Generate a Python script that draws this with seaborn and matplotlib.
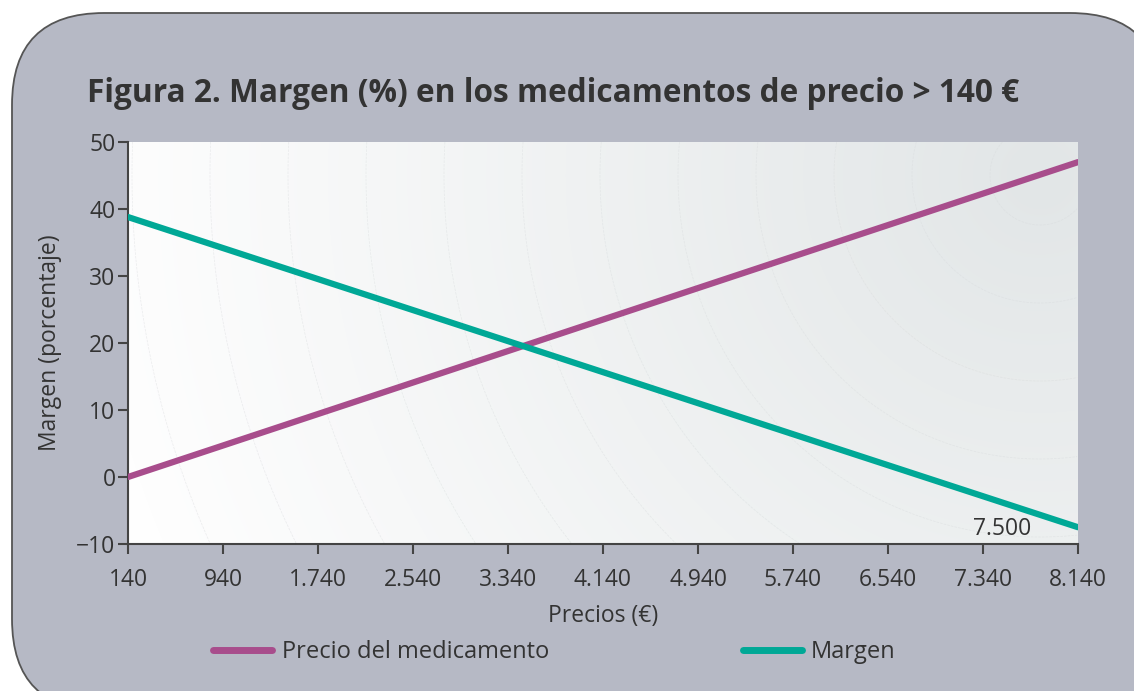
import numpy as np
import pandas as pd
import seaborn as sns
import matplotlib
matplotlib.use("Agg")
import matplotlib.pyplot as plt
from matplotlib.patches import FancyBboxPatch
from matplotlib.transforms import IdentityTransform

# ---- data ----
precios = [140, 8140]
precio_medicamento = [0.0, 47.0]
margen = [38.8, -7.5]
series_names = ["Precio del medicamento", "Margen"]
x_ticks = [140, 940, 1740, 2540, 3340, 4140, 4940, 5740, 6540, 7340, 8140]
x_tick_labels = ["140", "940", "1.740", "2.540", "3.340", "4.140", "4.940",
                 "5.740", "6.540", "7.340", "8.140"]
y_ticks = [-10, 0, 10, 20, 30, 40, 50]
y_tick_labels = ["\u221210", "0", "10", "20", "30", "40", "50"]
annotation_x, annotation_y, annotation_text = 7500, -7.8, "7.500"

df = pd.DataFrame({
    "Precios": precios * 2,
    "Valor": precio_medicamento + margen,
    "Serie": [series_names[0]] * len(precios) + [series_names[1]] * len(precios),
})

sns.set_theme(style="white")
plt.rcParams["font.family"] = ["Open Sans", "DejaVu Sans"]

W, H, DPI = 1134, 691, 100
fig = plt.figure(figsize=(W / DPI, H / DPI), dpi=DPI)
fig.patch.set_facecolor("white")

panel_col = "#b6b9c5"
text_col = "#333333"
panel = FancyBboxPatch((12, -20), 1150, 691 - 13 + 20,
                       boxstyle="round,pad=0,rounding_size=92",
                       transform=IdentityTransform(), facecolor=panel_col,
                       edgecolor="#555555", linewidth=1.3, zorder=-5)
fig.patches.append(panel)

ax_l, ax_r, ax_t, ax_b = 128, 1078, 142, 544
ax = fig.add_axes([ax_l / W, 1 - ax_b / H, (ax_r - ax_l) / W, (ax_b - ax_t) / H])
ax.set_zorder(2)
ax.set_facecolor("white")

# radial background gradient
aw, ah = ax_r - ax_l, ax_b - ax_t
xx, yy = np.meshgrid(np.arange(aw), np.arange(ah))
cx, cy = 1040 - ax_l, 175 - ax_t
d = np.sqrt((xx - cx) ** 2 + (yy - cy) ** 2)
t = np.clip(d / 950.0, 0, 1)
c0 = np.array([226, 230, 231]) / 255.0
c1 = np.array([254, 254, 254]) / 255.0
img = c0[None, None, :] + (c1 - c0)[None, None, :] * t[..., None]
ax.imshow(img, extent=[140, 8140, -10, 50], origin="upper", aspect="auto",
          zorder=0, interpolation="bilinear")
# faint concentric rings
gx = 140 + xx / aw * 8000
gy = 50 - yy / ah * 60
ax.contour(gx, gy, d, levels=np.arange(50, 1000, 78), colors="#d6d9db",
           linewidths=0.5, zorder=1, alpha=0.45, linestyles="--")

palette = {series_names[0]: "#a84d8c", series_names[1]: "#00a896"}
sns.lineplot(data=df, x="Precios", y="Valor", hue="Serie", palette=palette,
             linewidth=4.5, ax=ax, legend=True, zorder=3)

ax.set_xlim(140, 8140)
ax.set_ylim(-10, 50)
ax.set_xticks(x_ticks)
ax.set_xticklabels(x_tick_labels)
ax.set_yticks(y_ticks)
ax.set_yticklabels(y_tick_labels)
for s in ["top", "right"]:
    ax.spines[s].set_visible(False)
for s in ["left", "bottom"]:
    ax.spines[s].set_color("#444444")
    ax.spines[s].set_linewidth(1.5)
ax.tick_params(axis="both", direction="out", length=7, width=1.5,
               color="#444444", labelsize=16.5, labelcolor=text_col,
               bottom=True, left=True)
ax.tick_params(axis="x", pad=10)
ax.tick_params(axis="y", pad=2)
ax.set_xlabel("Precios (\u20ac)", fontsize=16.5, color=text_col, labelpad=9)
ax.set_ylabel("Margen (porcentaje)", fontsize=16.5, color=text_col, labelpad=10)

ax.text(annotation_x, annotation_y, annotation_text, ha="center", va="center",
        fontsize=16.5, color=text_col, zorder=4)

handles, labels = ax.get_legend_handles_labels()
ax.get_legend().remove()
leg = fig.legend(handles, labels, loc="center left",
                 bbox_to_anchor=(192 / W, 1 - 652 / H), ncol=2, frameon=False,
                 fontsize=17, handlelength=2.5, handletextpad=0.4,
                 columnspacing=8.2, labelcolor=text_col)
for lh in leg.get_lines():
    lh.set_linewidth(5)

fig.text(87 / W, 1 - 93 / H, "Figura 2. Margen (%) en los medicamentos de precio > 140 \u20ac",
         fontsize=22.8, fontweight="bold", color=text_col, ha="left", va="center")

fig.savefig("out.png", dpi=DPI, facecolor="white")
